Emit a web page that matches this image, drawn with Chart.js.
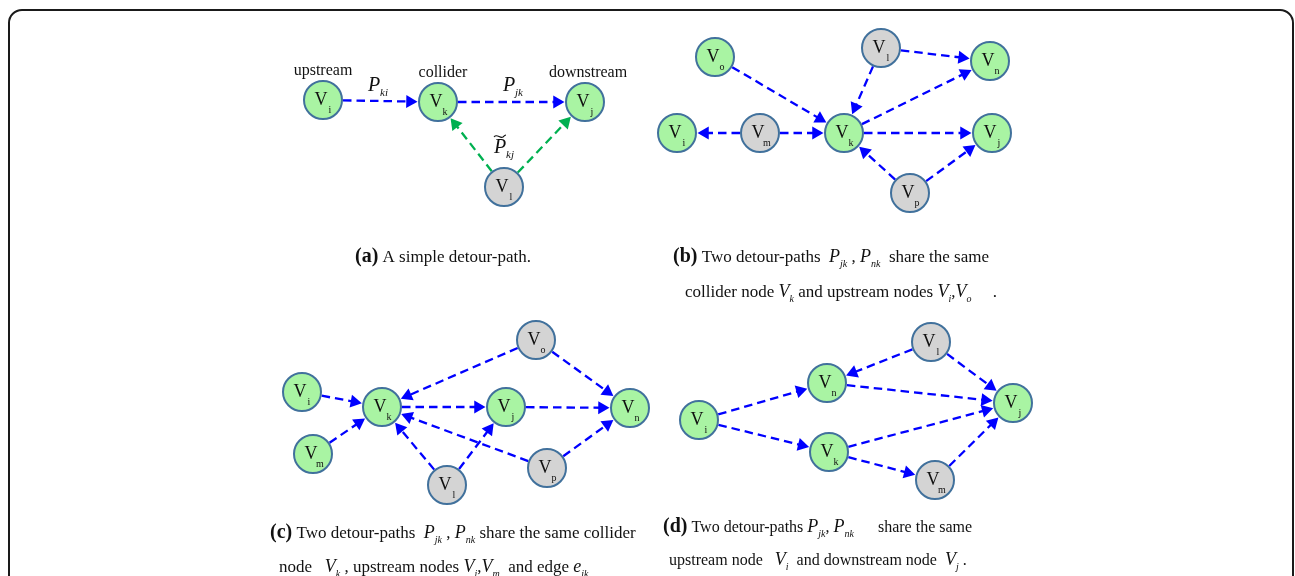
<!DOCTYPE html>
<html>
<head>
<meta charset="utf-8">
<script src="https://cdn.jsdelivr.net/npm/chart.js@4.4.0/dist/chart.umd.min.js"></script>
<style>
  html, body { margin: 0; padding: 0; background: #fff; }
  #wrap { width: 1295px; height: 576px; }
</style>
</head>
<body>
<div id="wrap"><canvas id="fig" width="1295" height="576"></canvas></div>
<script>
// Node positions per panel (x, y in figure units, y grows downward)
const aNames = ['i', 'k', 'j', 'l'];
const aX = [323, 438, 585, 504];
const aY = [100, 102, 102, 187];
const aGray = ['l'];
const aEdges = [['i', 'k'], ['k', 'j'], ['l', 'k'], ['l', 'j']];
const aEdgeKind = ['blue', 'blue', 'green', 'green'];

const bNames = ['o', 'l', 'n', 'i', 'm', 'k', 'j', 'p'];
const bX = [715, 881, 990, 677, 760, 844, 992, 910];
const bY = [57, 48, 61, 133, 133, 133, 133, 193];
const bGray = ['l', 'm', 'p'];
const bEdges = [['o', 'k'], ['l', 'k'], ['l', 'n'], ['k', 'n'], ['m', 'i'], ['m', 'k'], ['k', 'j'], ['p', 'k'], ['p', 'j']];

const cNames = ['o', 'i', 'k', 'j', 'n', 'm', 'l', 'p'];
const cX = [536, 302, 382, 506, 630, 313, 447, 547];
const cY = [340, 392, 407, 407, 408, 454, 485, 468];
const cGray = ['o', 'l', 'p'];
const cEdges = [['o', 'k'], ['o', 'n'], ['i', 'k'], ['m', 'k'], ['k', 'j'], ['j', 'n'], ['l', 'k'], ['l', 'j'], ['p', 'k'], ['p', 'n']];

const dNames = ['l', 'n', 'i', 'k', 'j', 'm'];
const dX = [931, 827, 699, 829, 1013, 935];
const dY = [342, 383, 420, 452, 403, 480];
const dGray = ['l', 'm'];
const dEdges = [['l', 'n'], ['l', 'j'], ['i', 'n'], ['i', 'k'], ['n', 'j'], ['k', 'j'], ['k', 'm'], ['m', 'j']];

// Text of panel (a)
const aRoles = [['upstream', 323, 71], ['collider', 443, 73], ['downstream', 588, 73]];
const aPathLabels = [['P', 'ki', 374, 86, false], ['P', 'jk', 509, 86, false], ['P', 'kj', 500, 148, true]];

// Captions: [style, text, subscript]
const capA = [[['b', '(a)'], ['n', ' A simple detour-path.']]];
const capB = [
  [['b', '(b)'], ['n', ' Two detour-paths  '], ['m', 'P', 'jk'], ['n', ' , '], ['m', 'P', 'nk'], ['n', '  share the same']],
  [['n', 'collider node '], ['m', 'V', 'k'], ['n', ' and upstream nodes '], ['m', 'V', 'i'], ['n', ','], ['m', 'V', 'o'], ['n', '     .']]
];
const capC = [
  [['b', '(c)'], ['n', ' Two detour-paths  '], ['m', 'P', 'jk'], ['n', ' , '], ['m', 'P', 'nk'], ['n', ' share the same collider']],
  [['n', 'node   '], ['m', 'V', 'k'], ['n', ' , upstream nodes '], ['m', 'V', 'i'], ['n', ','], ['m', 'V', 'm'], ['n', '  and edge '], ['m', 'e', 'ik']]
];
const capD = [
  [['b', '(d)'], ['n', ' Two detour-paths '], ['m', 'P', 'jk'], ['n', ', '], ['m', 'P', 'nk'], ['n', '      share the same']],
  [['n', 'upstream node   '], ['m', 'V', 'i'], ['n', '  and downstream node  '], ['m', 'V', 'j'], ['n', ' .']]
];

const SERIF = '"Liberation Serif", "DejaVu Serif", serif';
const NODE_R = 19;
const HEAD_R = 7.5;
const palette = {
  green: '#a9f4a3',
  gray: '#d4d4d4',
  ring: '#41719c',
  blue: '#0000ff',
  dgreen: '#00b050'
};

function panelNodes(names, xs, ys, gray) {
  const out = {};
  names.forEach((n, i) => {
    out[n] = { name: n, x: xs[i], y: ys[i], fill: gray.includes(n) ? palette.gray : palette.green };
  });
  return out;
}

const panels = [
  { nodes: panelNodes(aNames, aX, aY, aGray), edges: aEdges, kinds: aEdgeKind },
  { nodes: panelNodes(bNames, bX, bY, bGray), edges: bEdges },
  { nodes: panelNodes(cNames, cX, cY, cGray), edges: cEdges },
  { nodes: panelNodes(dNames, dX, dY, dGray), edges: dEdges }
];

/**
 * One dashed edge with a triangle head at the target's rim
 */
function edgeDataset(p, q, color) {
  const dx = q.x - p.x, dy = q.y - p.y;
  const len = Math.hypot(dx, dy);
  const ux = dx / len, uy = dy / len;
  const tip = len - (NODE_R + 1.5);
  const ang = Math.atan2(uy, ux) * 180 / Math.PI;
  return {
    type: 'scatter',
    showLine: true,
    data: [
      { x: p.x + ux * (NODE_R + 1), y: p.y + uy * (NODE_R + 1) },
      { x: p.x + ux * (tip - HEAD_R), y: p.y + uy * (tip - HEAD_R) }
    ],
    borderColor: color,
    borderWidth: 2.3,
    borderDash: [8.5, 5],
    pointRadius: [0, HEAD_R],
    pointHoverRadius: [0, HEAD_R],
    pointStyle: 'triangle',
    pointRotation: ang + 90,
    pointBackgroundColor: color,
    pointBorderWidth: 0,
    order: 2
  };
}

const datasets = [];
const allNodes = [];
panels.forEach(pn => {
  Object.values(pn.nodes).forEach(n => allNodes.push(n));
  pn.edges.forEach((e, i) => {
    const color = pn.kinds && pn.kinds[i] === 'green' ? palette.dgreen : palette.blue;
    datasets.push(edgeDataset(pn.nodes[e[0]], pn.nodes[e[1]], color));
  });
});

datasets.push({
  type: 'scatter',
  data: allNodes.map(n => ({ x: n.x, y: n.y })),
  pointRadius: NODE_R,
  pointHoverRadius: NODE_R,
  pointBackgroundColor: allNodes.map(n => n.fill),
  pointBorderColor: palette.ring,
  pointBorderWidth: 2,
  order: 0
});

// Rounded frame around the whole figure
const framePlugin = {
  id: 'frame',
  beforeDraw(chart) {
    const ctx = chart.ctx;
    const x0 = 9, y0 = 10, x1 = 1293, y1 = 620, r = 13;
    ctx.save();
    ctx.fillStyle = '#fff';
    ctx.fillRect(0, 0, chart.width, chart.height);
    ctx.beginPath();
    ctx.moveTo(x0 + r, y0);
    ctx.lineTo(x1 - r, y0);
    ctx.arcTo(x1, y0, x1, y0 + r, r);
    ctx.lineTo(x1, y1);
    ctx.lineTo(x0, y1);
    ctx.lineTo(x0, y0 + r);
    ctx.arcTo(x0, y0, x0 + r, y0, r);
    ctx.strokeStyle = '#1a1a1a';
    ctx.lineWidth = 2;
    ctx.stroke();
    ctx.restore();
  }
};

function drawRuns(ctx, runs, x, y, size) {
  runs.forEach(run => {
    const [kind, text, sub] = run;
    if (kind === 'b') {
      ctx.font = 'bold 20px ' + SERIF;
      ctx.fillText(text, x, y);
      x += ctx.measureText(text).width;
    } else if (kind === 'n') {
      ctx.font = size + 'px ' + SERIF;
      ctx.fillText(text, x, y);
      x += ctx.measureText(text).width;
    } else {
      ctx.font = 'italic 18px ' + SERIF;
      ctx.fillText(text, x, y);
      x += ctx.measureText(text).width;
      ctx.font = 'italic 10px ' + SERIF;
      ctx.fillText(sub, x, y + 5);
      x += ctx.measureText(sub).width;
    }
  });
}

const textPlugin = {
  id: 'texts',
  afterDatasetsDraw(chart) {
    const ctx = chart.ctx;
    const sx = chart.scales.x, sy = chart.scales.y;
    ctx.save();
    ctx.fillStyle = '#111';
    ctx.textBaseline = 'middle';

    // node labels
    allNodes.forEach(n => {
      const px = sx.getPixelForValue(n.x), py = sy.getPixelForValue(n.y);
      ctx.textAlign = 'center';
      ctx.font = '18px ' + SERIF;
      ctx.fillText('V', px - 2, py);
      ctx.font = '10px ' + SERIF;
      ctx.fillText(n.name, px + 7, py + 10);
    });

    // role words in panel (a)
    ctx.font = '16px ' + SERIF;
    aRoles.forEach(([t, x, y]) => {
      ctx.fillText(t, sx.getPixelForValue(x), sy.getPixelForValue(y));
    });

    // path labels in panel (a)
    aPathLabels.forEach(([p, sub, x, y, tilde]) => {
      const px = sx.getPixelForValue(x), py = sy.getPixelForValue(y);
      ctx.font = 'italic 20px ' + SERIF;
      ctx.textAlign = 'center';
      ctx.fillText(p, px, py);
      if (tilde) {
        const tx = px - 6, ty = py - 12;
        ctx.beginPath();
        ctx.moveTo(tx, ty + 1);
        ctx.bezierCurveTo(tx + 3, ty - 3, tx + 6, ty + 3, tx + 9, ty + 1);
        ctx.bezierCurveTo(tx + 10, ty, tx + 11, ty - 1, tx + 12, ty - 1);
        ctx.strokeStyle = '#111';
        ctx.lineWidth = 1.1;
        ctx.stroke();
      }
      ctx.font = 'italic 11px ' + SERIF;
      ctx.textAlign = 'left';
      ctx.fillText(sub, px + 6, py + 7);
    });

    // captions
    ctx.textAlign = 'left';
    ctx.textBaseline = 'alphabetic';
    drawRuns(ctx, capA[0], 355, 262, 17);
    drawRuns(ctx, capB[0], 673, 262, 17);
    drawRuns(ctx, capB[1], 685, 297, 17);
    drawRuns(ctx, capC[0], 270, 538, 17);
    drawRuns(ctx, capC[1], 279, 572, 17);
    drawRuns(ctx, capD[0], 663, 532, 16);
    drawRuns(ctx, capD[1], 669, 565, 16);
    ctx.restore();
  }
};

new Chart(document.getElementById('fig'), {
  type: 'scatter',
  data: { datasets },
  options: {
    responsive: false,
    animation: false,
    events: [],
    layout: { padding: 0, autoPadding: false },
    scales: {
      x: { type: 'linear', min: 0, max: 1295, display: false },
      y: { type: 'linear', min: 0, max: 576, reverse: true, display: false }
    },
    plugins: {
      legend: { display: false },
      tooltip: { enabled: false }
    }
  },
  plugins: [framePlugin, textPlugin]
});
</script>
</body>
</html>
